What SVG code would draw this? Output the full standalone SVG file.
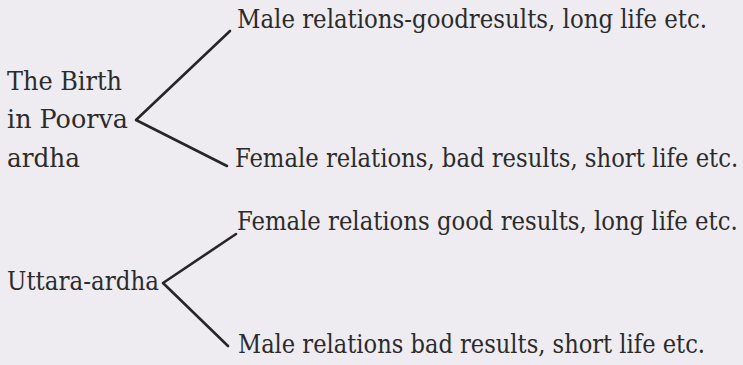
<svg xmlns="http://www.w3.org/2000/svg" width="743" height="365" viewBox="0 0 743 365">
<style>
.t{font-size:26px;fill:#2b2b2b}
.c{fill:none;stroke:#262626;stroke-width:2.6;stroke-linejoin:round;stroke-linecap:round}
</style>
<rect width="743" height="365" fill="#eeecf1"/>
<g id="connectors">
<polyline class="c" points="230,31 136,120 227,166"/>
<polyline class="c" points="236,234 163,283 228,346"/>
</g>
<g font-family="DejaVu Serif Condensed, DejaVu Serif, serif" font-stretch="condensed" class="t">
<g id="poorva">
<text x="7" y="90" textLength="115" lengthAdjust="spacingAndGlyphs">The Birth</text>
<text x="7" y="128" textLength="121" lengthAdjust="spacingAndGlyphs">in Poorva</text>
<text x="7" y="167" textLength="73" lengthAdjust="spacingAndGlyphs">ardha</text>
</g>
<g id="poorva-male">
<text x="237" y="28" textLength="470" lengthAdjust="spacingAndGlyphs">Male relations-goodresults, long life etc.</text>
</g>
<g id="poorva-female" transform="translate(235,167) scale(0.85,1)">
<text x="0" y="0" textLength="592" lengthAdjust="spacingAndGlyphs">Female relations, bad results, short life etc.</text>
</g>
<g id="uttara">
<text x="7" y="290" textLength="152" lengthAdjust="spacingAndGlyphs">Uttara-ardha</text>
</g>
<g id="uttara-female" transform="translate(237,230) scale(0.85,1)">
<text x="0" y="0" textLength="589" lengthAdjust="spacingAndGlyphs">Female relations good results, long life etc.</text>
</g>
<g id="uttara-male">
<text x="238" y="353" textLength="467" lengthAdjust="spacingAndGlyphs">Male relations bad results, short life etc.</text>
</g>
</g>
</svg>
